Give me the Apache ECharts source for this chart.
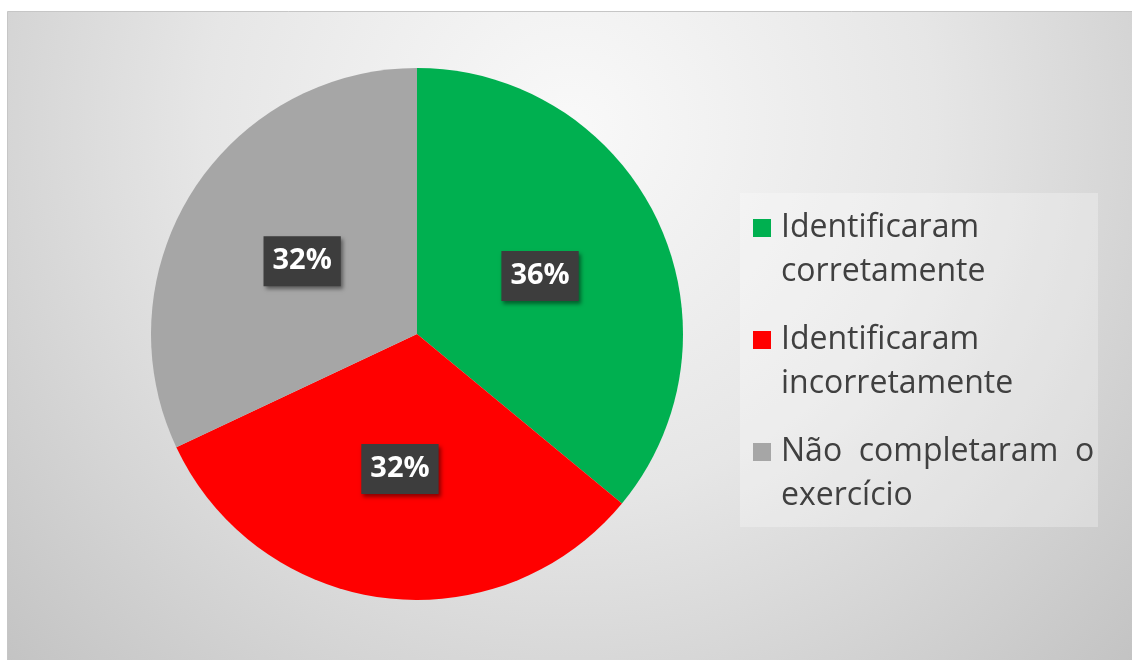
<!DOCTYPE html>
<html>
<head>
<meta charset="utf-8">
<style>
  html, body { margin: 0; padding: 0; background: #ffffff; }
  #chart { width: 1132px; height: 660px; }
</style>
<script src="https://cdn.jsdelivr.net/npm/echarts@6/dist/echarts.min.js"></script>
</head>
<body>
<div id="chart"></div>
<script>
// Resultado do exercício de identificação
const categories = [
  'Identificaram\ncorretamente',
  'Identificaram\nincorretamente',
  'Não  completaram  o\nexercício'
];
const values = [36, 32, 32];
const colors = ['#00b050', '#ff0000', '#a6a6a6'];

const chart = echarts.init(document.getElementById('chart'), null, { renderer: 'canvas' });

const fontFamily = '"Open Sans", "Noto Sans", sans-serif';

chart.setOption({
  animation: false,
  color: colors,
  graphic: [
    {
      // chart area background
      type: 'rect',
      z: -10,
      silent: true,
      shape: { x: 7.5, y: 11.5, width: 1125, height: 649 },
      style: {
        fill: {
          type: 'radial', x: 0.5, y: 0.18, r: 1.25,
          colorStops: [
            { offset: 0, color: '#f9f9f9' },
            { offset: 0.45, color: '#e6e6e6' },
            { offset: 1, color: '#c0c0c0' }
          ]
        },
        stroke: '#c6c6c6',
        lineWidth: 1
      }
    },
    {
      // legend panel
      type: 'rect',
      z: -5,
      silent: true,
      shape: { x: 740, y: 193, width: 358, height: 334 },
      style: { fill: 'rgba(255,255,255,0.28)' }
    }
  ],
  legend: {
    orient: 'vertical',
    left: 753,
    top: 162,
    padding: 0,
    itemWidth: 18,
    itemHeight: 18,
    itemGap: -20,
    icon: 'rect',
    selectedMode: false,
    // leading blank line keeps the first text line level with the swatch
    formatter: name => '\n' + name,
    textStyle: {
      fontFamily: fontFamily,
      fontSize: 32,
      lineHeight: 44,
      color: '#404040',
      padding: [0, 0, 0, 5]
    },
    data: categories
  },
  series: [
    {
      type: 'pie',
      center: [417, 334],
      radius: 266,
      startAngle: 90,
      clockwise: true,
      silent: true,
      label: {
        show: true,
        position: 'inside',
        formatter: '{d}%',
        fontFamily: fontFamily,
        fontWeight: 'bold',
        fontSize: 29,
        color: '#ffffff',
        backgroundColor: '#3d3d3d',
        padding: [11, 9, 10, 9],
        shadowColor: 'rgba(0,0,0,0.45)',
        shadowBlur: 4,
        shadowOffsetX: 2,
        shadowOffsetY: 3
      },
      labelLine: { show: false },
      itemStyle: { borderWidth: 0 },
      data: categories.map((name, i) => ({ name: name, value: values[i] }))
    }
  ]
});
</script>
</body>
</html>
